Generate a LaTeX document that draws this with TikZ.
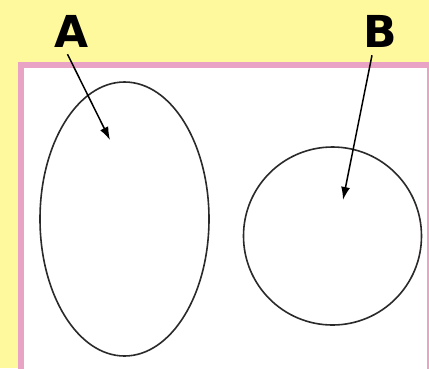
\documentclass[tikz,border=0pt]{standalone}
\usepackage{fontspec}
\newfontfamily\lblfont{DejaVu Sans}
\usetikzlibrary{arrows.meta,shapes.geometric}
\definecolor{bgyellow}{HTML}{FFF99E}
\definecolor{framepink}{HTML}{E9A3C4}
\definecolor{inkgray}{HTML}{2A2A2A}
\tikzset{
  setshape/.style={draw=inkgray, line width=1.6pt, inner sep=0pt},
  setlabel/.style={font=\lblfont\bfseries\fontsize{44}{44}\selectfont, inner sep=0pt, anchor=base},
  pointer/.style={draw=black, line width=1.5pt, -{Latex[length=13pt,width=9pt]}}
}
\begin{document}
\begin{tikzpicture}[x=1pt,y=-1pt]
\fill[bgyellow] (0,0) rectangle (429,368);
\useasboundingbox (0,0) rectangle (429,368);
\draw[framepink, line width=6pt, fill=white] (21,65) rectangle (430,374);
\node[setshape, ellipse, minimum width=169pt, minimum height=274pt] (A) at (124.5,219) {};
\node[setshape, circle, minimum size=178pt] (B) at (332.5,236) {};
\node[setlabel] (la) at (71.5,47) {A};
\node[setlabel] (lb) at (380,47) {B};
\coordinate (ta) at (110,140);
\coordinate (tb) at (343,200);
\draw[pointer] ([xshift=-4pt,yshift=-7pt]la.south) -- (ta);
\draw[pointer] ([xshift=-8pt,yshift=-8pt]lb.south) -- (tb);
\end{tikzpicture}
\end{document}
